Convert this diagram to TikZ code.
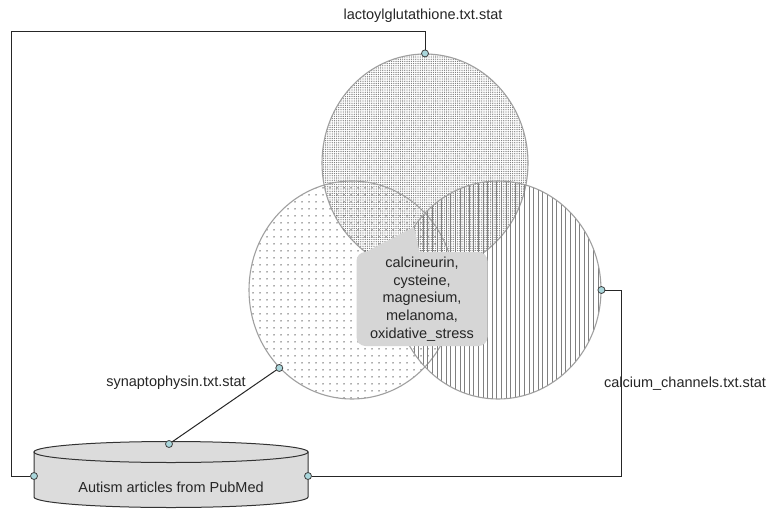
\documentclass[tikz,border=0pt]{standalone}
\usepackage{fontspec}
\setmainfont{Liberation Sans}
\usetikzlibrary{shapes.geometric,patterns.meta}
\definecolor{rim}{RGB}{160,160,160}
\definecolor{bubble}{RGB}{214,214,214}
\definecolor{drum}{RGB}{220,220,220}
\definecolor{portcol}{RGB}{170,215,220}
\tikzset{
  venn/.style={ellipse,draw=rim,line width=1.1pt,minimum width=206pt,minimum height=218pt,inner sep=0pt},
  pin/.style={circle,draw=black!75,fill=portcol,line width=0.8pt,minimum size=7pt,inner sep=0pt},
  wire/.style={draw=black!85,line width=1pt},
  tag/.style={font=\fontsize{14.5}{17.7}\selectfont,text=black!85,inner sep=0pt},
}

\begin{document}
\begin{tikzpicture}[x=1pt,y=-1pt]
  \useasboundingbox[fill=white] (0,0) rectangle (767,508);
  % the three sets
  \node[venn,pattern={Dots[distance=2.2pt,radius=0.65pt]},pattern color=black!55] (lacto) at (425,163) {};
  \node[venn,pattern={Dots[distance=6.5pt,radius=0.8pt]},pattern color=black!65] (synapt) at (352,290) {};
  \node[venn,pattern={Lines[angle=90,distance=4.6pt,line width=0.9pt]},pattern color=gray] (calc) at (498,290) {};
  % common terms
  \node[tag,fill=bubble,rounded corners=9pt,minimum width=131pt,minimum height=94pt,align=center] (terms) at (422,299)
    {calcineurin,\\cysteine,\\magnesium,\\melanoma,\\oxidative\_stress};
  \fill[bubble] ([xshift=6pt,yshift=-2pt]terms.north west) -- (414,227) -- ([xshift=-2pt,yshift=-2pt]terms.north) -- cycle;
  % labels
  \node[tag] (lblac) at (423,16) {lactoylglutathione.txt.stat};
  \node[tag] (lbsyn) at (176,383) {synaptophysin.txt.stat};
  \node[tag] (lbcal) at (685,384) {calcium\_channels.txt.stat};
  % database
  \filldraw[fill=drum,draw=black!80,line width=1pt] (34,452) -- (34,497)
    arc[start angle=180,end angle=0,x radius=137,y radius=10.5] -- (308,452) -- cycle;
  \filldraw[fill=drum,draw=black!80,line width=1pt] (171,452) ellipse [x radius=137,y radius=10.5];
  \node[tag] (pubmed) at (171,487) {Autism articles from PubMed};
  % ports
  \node[pin] (plac) at (lacto.north) {};
  \node[pin] (psyn) at (synapt.227) {};
  \node[pin] (pcal) at (calc.east) {};
  \node[pin] (ptop) at (169,444) {};
  \node[pin] (pleft) at (34,476) {};
  \node[pin] (pright) at (308,476) {};
  % wires
  \draw[wire] (pleft) -- (11,476) |- (plac |- 0,32) -- (plac);
  \draw[wire] (pcal) -- (pcal -| 621,0) |- (pright);
  \draw[wire] (psyn) -- (ptop);
\end{tikzpicture}
\end{document}
